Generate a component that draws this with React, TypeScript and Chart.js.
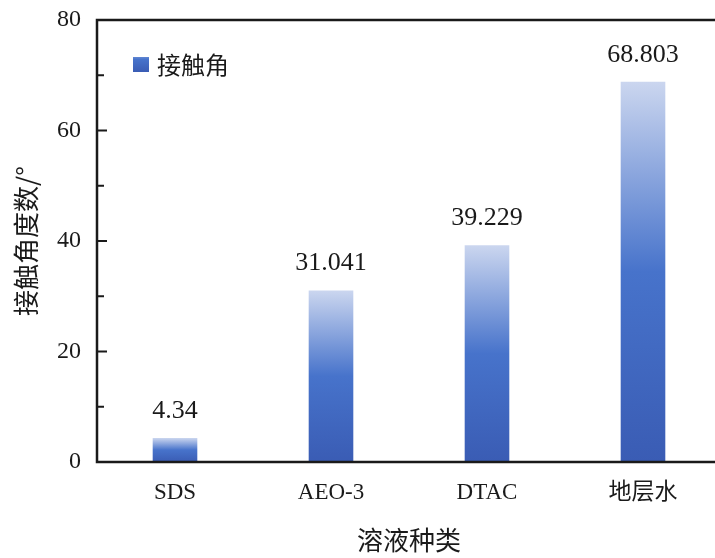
import React, { useEffect, useRef } from "react";
import { Chart, registerables } from "chart.js";

Chart.register(...registerables);

const categories = ["SDS", "AEO-3", "DTAC", "地层水"];
const contactAngle = [4.34, 31.041, 39.229, 68.803];
const valueLabels = ["4.34", "31.041", "39.229", "68.803"];
const yTicks = [0, 20, 40, 60, 80];
const yMinorTicks = [10, 30, 50, 70];
const seriesName = "接触角";
const xTitle = "溶液种类";
const yTitle = "接触角度数/°";

const SERIF = '"Liberation Serif", "Times New Roman", "Noto Sans CJK SC", serif';
const CJK = '"Noto Sans CJK SC", "Noto Sans", sans-serif';
const INK = "#1a1a1a";

function makeGradient(ctx2d: CanvasRenderingContext2D, yBottom: number, yTop: number) {
  const g = ctx2d.createLinearGradient(0, yBottom, 0, yTop);
  g.addColorStop(0, "#3a5cb4");
  g.addColorStop(0.5, "#4773cb");
  g.addColorStop(1, "#cbd6ef");
  return g;
}

const framePlugin = {
  id: "frame",
  afterDatasetsDraw(chart: any) {
    const { ctx, chartArea, scales } = chart;
    const y = scales.y;
    ctx.save();
    // data labels
    const meta = chart.getDatasetMeta(0);
    ctx.fillStyle = INK;
    ctx.font = `26px ${SERIF}`;
    ctx.textAlign = "center";
    ctx.textBaseline = "alphabetic";
    meta.data.forEach((bar: any, i: number) => {
      ctx.fillText(valueLabels[i], bar.x, bar.y - 20);
    });
    // frame lines
    ctx.strokeStyle = INK;
    ctx.lineWidth = 2.5;
    ctx.beginPath();
    ctx.moveTo(chartArea.left, chartArea.top);
    ctx.lineTo(chart.width, chartArea.top);
    ctx.moveTo(chartArea.left, chartArea.top - 1.25);
    ctx.lineTo(chartArea.left, chartArea.bottom + 1.25);
    ctx.moveTo(chartArea.left, chartArea.bottom);
    ctx.lineTo(chart.width, chartArea.bottom);
    ctx.stroke();
    // inward ticks
    ctx.lineWidth = 2;
    ctx.beginPath();
    yTicks.forEach((v) => {
      const py = y.getPixelForValue(v);
      ctx.moveTo(chartArea.left, py);
      ctx.lineTo(chartArea.left + 10, py);
    });
    yMinorTicks.forEach((v) => {
      const py = y.getPixelForValue(v);
      ctx.moveTo(chartArea.left, py);
      ctx.lineTo(chartArea.left + 7, py);
    });
    ctx.stroke();
    // legend
    const lx = chartArea.left + 36;
    const ly = chartArea.top + 37;
    ctx.fillStyle = makeGradient(ctx, ly + 15, ly - 10);
    ctx.fillRect(lx, ly, 16, 15);
    ctx.fillStyle = INK;
    ctx.font = `24px ${CJK}`;
    ctx.textAlign = "left";
    ctx.textBaseline = "middle";
    ctx.fillText(seriesName, lx + 24, ly + 8);
    ctx.restore();
  },
};

export default function App() {
  const ref = useRef<HTMLCanvasElement | null>(null);
  useEffect(() => {
    if (!ref.current) return;
    const chart = new Chart(ref.current, {
      type: "bar",
      data: {
        labels: categories,
        datasets: [
          {
            label: seriesName,
            data: contactAngle,
            backgroundColor: (c: any) => {
              const ch = c.chart;
              if (!ch.chartArea || c.type !== "data") return "#4470c8";
              const v = c.dataset.data[c.dataIndex];
              const yb = ch.scales.y.getPixelForValue(0);
              const yt = ch.scales.y.getPixelForValue(v);
              return makeGradient(ch.ctx, yb, yt);
            },
            borderWidth: 0,
            barPercentage: 0.286,
            categoryPercentage: 1,
          },
        ],
      },
      options: {
        animation: false,
        responsive: false,
        maintainAspectRatio: false,
        layout: { padding: { left: 0, top: 20, right: 9, bottom: 0 } },
        plugins: {
          legend: { display: false },
          tooltip: { enabled: false },
        },
        scales: {
          x: {
            grid: { display: false, drawTicks: false },
            border: { display: false },
            ticks: {
              color: INK,
              font: { family: SERIF, size: 23 },
              padding: 17,
              maxRotation: 0,
            },
            title: {
              display: true,
              text: xTitle,
              color: INK,
              font: { family: CJK, size: 26 },
              padding: { top: 0, bottom: 2 },
            },
            afterFit: (s: any) => {
              s.height = 96;
              s.paddingLeft = 0;
              s.paddingRight = 0;
            },
          },
          y: {
            min: 0,
            max: 80,
            grid: { display: false, drawTicks: false },
            border: { display: false },
            ticks: {
              color: INK,
              font: { family: SERIF, size: 24 },
              padding: 16,
            },
            afterBuildTicks: (s: any) => {
              s.ticks = yTicks.map((v) => ({ value: v }));
            },
            title: {
              display: true,
              text: yTitle,
              color: INK,
              font: { family: CJK, size: 26 },
              padding: { top: 11, bottom: 0 },
            },
            afterFit: (s: any) => {
              s.width = 97;
              s.paddingTop = 0;
              s.paddingBottom = 0;
            },
          },
        },
      },
      plugins: [framePlugin],
    });
    return () => chart.destroy();
  }, []);
  return (
    <div
      style={{
        position: "fixed",
        left: 0,
        top: 0,
        width: 715,
        height: 558,
        overflow: "hidden",
        background: "#fff",
      }}
    >
      <canvas ref={ref} width={730} height={558} style={{ width: 730, height: 558, display: "block" }} />
    </div>
  );
}
